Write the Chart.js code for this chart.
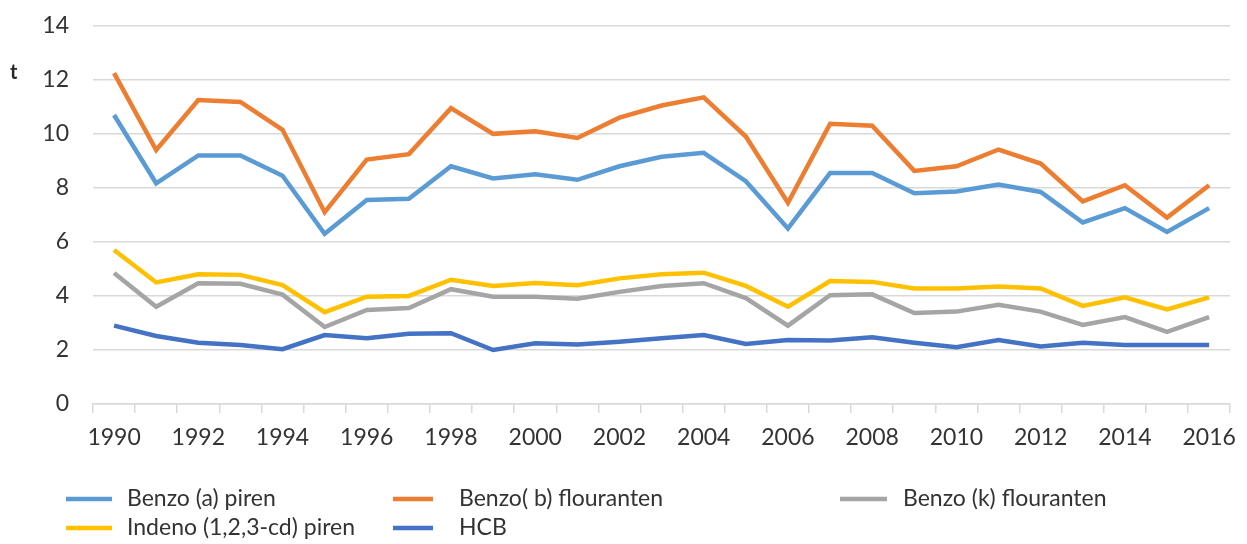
<!DOCTYPE html>
<html>
<head>
<meta charset="utf-8">
<script src="https://cdn.jsdelivr.net/npm/chart.js@4.4.1/dist/chart.umd.min.js"></script>
<style>
html,body{margin:0;padding:0;background:#fff;overflow:hidden;}
#wrap{position:relative;width:1247px;height:544px;overflow:hidden;}
#c{position:absolute;left:0;top:-12px;}
</style>
</head>
<body>
<div id="wrap"><canvas id="c" width="1247" height="556"></canvas></div>
<script>
const years = ['1990','1991','1992','1993','1994','1995','1996','1997','1998','1999','2000','2001','2002','2003','2004','2005','2006','2007','2008','2009','2010','2011','2012','2013','2014','2015','2016'];
const benzoA = [10.7,8.17,9.2,9.2,8.45,6.3,7.55,7.6,8.8,8.35,8.5,8.3,8.8,9.15,9.3,8.25,6.5,8.55,8.55,7.8,7.87,8.12,7.85,6.72,7.25,6.37,7.25];
const benzoB = [12.25,9.4,11.25,11.18,10.15,7.1,9.05,9.25,10.95,10.0,10.1,9.85,10.6,11.05,11.35,9.9,7.45,10.37,10.3,8.63,8.8,9.42,8.9,7.5,8.1,6.9,8.1];
const benzoK = [4.85,3.6,4.47,4.45,4.05,2.85,3.48,3.55,4.25,3.97,3.97,3.9,4.15,4.37,4.47,3.92,2.9,4.03,4.06,3.37,3.42,3.67,3.42,2.93,3.22,2.67,3.22];
const indeno = [5.7,4.5,4.8,4.78,4.4,3.4,3.97,4.0,4.6,4.37,4.48,4.4,4.65,4.8,4.86,4.37,3.6,4.55,4.52,4.28,4.28,4.35,4.28,3.63,3.95,3.5,3.95];
const hcb = [2.9,2.52,2.27,2.18,2.03,2.55,2.43,2.6,2.62,2.0,2.25,2.2,2.3,2.43,2.55,2.22,2.37,2.35,2.47,2.27,2.1,2.37,2.13,2.27,2.18,2.18,2.18];
const seriesNames = ['Benzo (a) piren','Benzo( b) flouranten','Benzo (k) flouranten','Indeno (1,2,3-cd) piren','HCB'];
const seriesColors = ['#5B9BD5','#ED7D31','#A5A5A5','#FFC000','#4472C4'];
const yTicks = [0,2,4,6,8,10,12,14];
const yUnit = 't';

const FONT = 'Lato, "Open Sans", sans-serif';
const TXT = '#333333';
const SHIFT = 12;

const values = [benzoA, benzoB, benzoK, indeno, hcb];
const datasets = values.map((v,i)=>({
  label: seriesNames[i], data: v, borderColor: seriesColors[i], backgroundColor: seriesColors[i],
  borderWidth: 4.5, pointRadius: 0, tension: 0, fill: false
}));
datasets.forEach((d,i)=>d.order = 5-i);

const legendPos = [
  {lx:66, tx:127, y:499},
  {lx:393, tx:459, y:499},
  {lx:840, tx:903, y:499},
  {lx:66, tx:127, y:528},
  {lx:393, tx:459, y:528}
];
const lineLens = [46,40,47,46,40];

const extras = {
  id:'extras',
  afterDraw(chart){
    const ctx = chart.ctx;
    ctx.save();
    ctx.fillStyle = '#262626';
    ctx.font = 'bold 20px ' + FONT;
    ctx.textAlign = 'left';
    ctx.textBaseline = 'middle';
    ctx.fillText(yUnit, 10, 73 + SHIFT);
    ctx.font = '23px ' + FONT;
    chart.data.datasets.forEach((d,i)=>{
      const p = legendPos[i];
      ctx.strokeStyle = d.borderColor;
      ctx.lineWidth = 4.5;
      ctx.beginPath();
      ctx.moveTo(p.lx, p.y + SHIFT);
      ctx.lineTo(p.lx + lineLens[i], p.y + SHIFT);
      ctx.stroke();
      ctx.fillStyle = TXT;
      ctx.fillText(d.label, p.tx, p.y + SHIFT);
    });
    ctx.restore();
  }
};

new Chart(document.getElementById('c'), {
  type:'line',
  data:{labels: years, datasets},
  options:{
    responsive:false, animation:false,
    layout:{padding:{left:0,right:10,top:0,bottom:0}},
    plugins:{legend:{display:false}, tooltip:{enabled:false}},
    scales:{
      x:{
        offset:true,
        grid:{offset:true, drawOnChartArea:false, drawTicks:true, tickLength:9, color:'#d9d9d9', lineWidth:1.5},
        border:{color:'#d9d9d9', width:1.5},
        ticks:{autoSkip:false, maxRotation:0, color:TXT, font:{family:FONT, size:23}, padding:11,
          callback:function(val, idx){ return idx % 2 === 0 ? this.getLabelForValue(val) : ''; }},
        afterFit(s){ s.height = 140; }
      },
      y:{
        min:0, max:14,
        afterBuildTicks(s){ s.ticks = yTicks.map(v=>({value:v})); },
        grid:{color:'#d9d9d9', lineWidth:1.5, drawTicks:false},
        border:{display:false},
        ticks:{color:TXT, font:{family:FONT, size:23}, padding:24},
        afterFit(s){ s.width = 93; }
      }
    }
  },
  plugins:[extras]
});
</script>
</body>
</html>
